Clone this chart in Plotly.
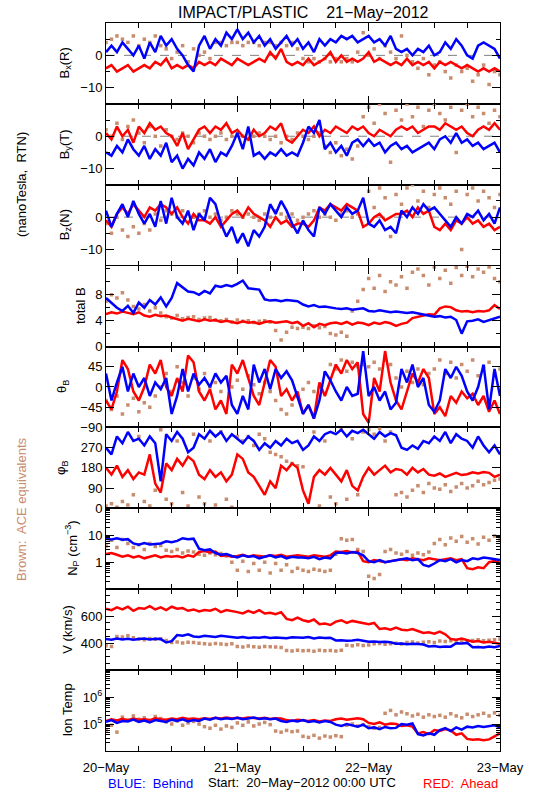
import plotly.graph_objects as go
from plotly.subplots import make_subplots
import pandas as pd

# ---------------- data (hourly samples) ----------------
START = pd.Timestamp("2012-05-20 00:00")
END = pd.Timestamp("2012-05-23 00:00")

day_ticks = ["2012-05-20", "2012-05-21", "2012-05-22", "2012-05-23"]
day_labels = ["20\u2212May", "21\u2212May", "22\u2212May", "23\u2212May"]

bx_blue = [1,3,1,4,2,0,3,-1,4,1,6,3,5,2,0,-3,-5,3,6,2,5,3,7,5,8,5,7,4,6,3,5,2,4,6,3,5,2,4,1,5,3,5,4,6,5,6,4,5,6,4,5,3,6,2,1,2,0,2,1,3,0,1,4,2,5,3,0,-1,3,4,3,2,-1]
bx_red = [-4,-3,-5,-4,-3,-5,-4,-3,-4,-2,-3,-1,-4,-3,-4,-3,-4,-2,-3,-2,-3,-1,-2,-3,-1,-2,-3,-2,-1,-2,1,-1,2,-2,-3,-2,-3,-1,-3,-2,-1,1,-2,0,-2,-1,-2,-1,1,-2,-1,-2,-3,-2,-3,-1,-3,-2,-3,-2,-4,-2,-3,-2,-3,-4,-3,-4,-5,-4,-5,-4,-5]
bx_brown = [4,5,6,5,4,6,3,5,4,6,3,2,-1,1,3,-2,2,0,1,-1,4,4,3,4,4,3,4,4,3,4,4,3,4,3,4,2,-1,-2,-1,-2,-1,-2,-1,-2,-1,-2,1,7,0,2,-1,3,1,-1,6,0,-2,-4,-1,-6,-3,-2,-5,-7,-3,-5,-4,-8,-6,-3,-9,-5,-6]

by_blue = [-5,-6,-3,-5,-1,-4,-6,-3,-7,-4,-6,-2,-8,-6,-10,-7,-9,-5,-7,-4,-8,-5,-6,-3,1,-4,3,-6,-5,-7,-5,-6,-4,-6,-5,-6,-2,3,1,5,-4,-2,-5,-3,-6,-2,-1,-3,-1,-3,-2,-5,-3,-2,-4,-3,-5,-4,-3,-2,-4,-1,0,-2,1,-2,-1,-3,-2,-4,-3,-2,-5]
by_red = [1,-1,3,0,2,-2,3,1,4,2,3,1,0,-3,1,-4,-1,2,3,1,3,2,4,1,2,0,-1,2,0,1,3,2,4,-1,-2,0,2,1,3,0,2,1,3,2,1,3,2,3,1,0,2,1,0,2,3,2,3,1,2,3,3,2,4,3,2,3,1,0,2,3,2,4,2]
by_brown = [2,0,4,-1,3,5,1,-2,3,0,-3,2,0,-1,1,0,-2,1,0,-1,0,1,-1,0,1,0,-1,0,1,0,-1,0,-2,0,-1,1,0,-1,0,1,-3,-5,-2,-6,-4,-7,-3,6,9,4,10,7,-8,8,5,10,6,9,3,8,10,7,5,9,-5,8,10,6,9,7,4,8,6]

bz_blue = [2,-3,1,4,0,5,1,-2,1,-3,5,-2,6,0,-2,2,-4,1,-1,6,4,-2,-6,-3,-8,-5,-9,-4,-6,-3,4,1,5,2,-2,-5,-1,-4,-6,3,1,4,2,0,3,1,2,6,-2,-3,-1,-4,-3,-5,2,0,3,1,4,2,3,1,-1,-3,0,-2,1,0,2,-1,1,-2,3]
bz_red = [-1,-3,1,3,1,4,2,0,3,2,4,3,1,3,0,-2,1,-1,-1,-2,0,-3,-1,1,2,0,3,1,0,-1,-3,0,-2,-1,-3,-2,-2,-3,-1,3,2,4,3,2,4,3,2,-3,-2,0,1,-1,0,1,1,2,0,3,1,2,-3,-4,-2,-4,-1,-2,0,-2,-1,-3,-2,-4,-3]
bz_brown = [-2,-5,0,-4,-6,-3,-5,-2,-4,1,-1,2,1,0,2,1,0,1,2,0,1,-1,0,2,1,0,1,0,-1,1,0,2,1,0,1,-1,0,1,2,0,1,0,-1,1,2,0,1,5,8,3,9,6,-6,7,4,9,10,5,8,3,7,9,6,4,8,-10,7,9,5,8,6,3,7]

btot_blue = [7.5,6.8,6.0,5.5,6.3,5.2,6.8,6.0,7.2,6.5,7.6,6.2,7.5,9.8,9.2,8.5,8.4,8.0,8.6,8.2,9.4,9.2,9.5,9.3,9.7,10.2,9.0,8.9,8.8,7.3,7.1,7.2,7.0,7.2,7.1,7.0,6.5,6.2,6.4,6.1,6.2,6.0,5.9,5.8,5.9,5.7,5.8,5.9,5.5,5.4,5.6,5.5,5.3,5.4,5.3,5.2,5.3,5.1,5.0,4.8,4.6,4.7,4.5,4.6,4.1,2.0,3.9,4.0,4.2,3.8,4.1,4.3,4.6]
btot_red = [5.0,5.3,5.1,5.4,5.2,5.0,5.3,4.8,4.6,4.9,4.7,4.8,4.5,4.2,4.0,4.3,4.1,3.9,4.2,4.0,4.1,3.8,4.0,3.8,3.6,3.9,3.7,3.8,3.5,3.8,3.9,3.7,3.8,3.9,3.6,3.8,3.2,3.6,3.0,3.5,3.3,3.6,3.7,3.5,3.8,3.4,3.7,3.6,3.3,3.7,3.5,3.8,3.6,3.2,3.5,3.7,4.4,4.6,4.8,5.0,4.9,5.9,6.2,6.1,5.6,5.4,5.5,5.3,5.5,5.4,5.6,6.4,5.8]
btot_brown = [7.0,8.0,7.5,8.3,7.2,6.2,5.8,6.5,5.5,6.0,5.2,4.6,4.4,4.8,4.3,4.5,4.6,4.2,4.4,4.5,4.1,4.0,4.2,3.8,4.1,3.9,4.0,3.7,3.9,4.0,3.8,2.5,1.0,2.2,3.0,2.8,3.0,2.8,3.2,2.9,3.1,2.0,1.8,2.2,1.6,5.5,7.0,8.8,10.5,9.0,11.0,8.5,10.0,9.5,10.8,9.0,11.5,12.0,11.0,9.5,12.3,10.5,11.8,9.8,12.2,11.0,12.4,10.8,12.0,11.5,12.3,10.5,10.0]

theta_blue = [30,-30,10,45,-10,30,0,20,-20,10,-5,20,-60,-20,40,-10,30,5,20,0,30,10,25,-40,-60,-20,-50,50,10,40,-5,40,20,35,15,-20,-60,-40,-70,-30,35,15,-10,-30,0,-20,-15,80,-20,0,-30,-10,-50,-35,40,10,50,0,20,-40,-55,-30,40,20,45,25,-10,-30,0,50,-50,40,-20]
theta_red = [-30,-50,-10,60,40,-10,-30,0,50,30,60,0,-20,20,-10,70,55,-10,-30,-5,-50,-30,-60,50,30,60,20,-20,-40,10,60,45,-20,-5,-30,-10,-60,-40,-70,10,-20,15,50,30,60,40,55,-60,-80,20,-10,80,10,-30,-50,-10,30,10,40,20,-60,-45,-65,-20,-35,-10,-25,-15,-40,-20,-55,-30,-60]
theta_brown = [-30,-50,-20,-60,-40,-25,-55,-35,-45,-20,0,30,-10,45,10,-20,20,-5,30,0,10,-10,20,0,15,-5,25,5,-15,10,-10,-30,-50,-60,-40,-20,-5,10,-10,0,30,50,40,60,35,55,45,50,45,55,40,60,50,20,0,35,10,40,5,30,40,60,30,55,20,50,35,60,25,45,55,30,40]

phi_blue = [270,240,320,290,340,300,310,280,320,290,120,330,300,340,310,250,270,330,310,345,320,340,300,330,310,290,320,300,260,290,270,300,280,310,290,300,260,280,320,300,330,340,330,350,320,345,335,350,330,310,340,320,335,325,270,260,280,265,300,290,320,300,340,290,330,310,300,270,320,280,250,280,240]
phi_red = [180,150,190,140,170,130,160,150,240,110,70,200,170,220,190,230,210,150,130,170,140,160,120,150,240,220,160,140,100,60,120,90,190,170,200,180,80,20,140,170,150,180,150,120,170,100,80,140,180,150,170,190,160,175,170,150,180,160,175,150,145,155,140,150,158,148,152,160,155,162,158,140,150]
phi_brown = [10,20,5,30,15,60,320,30,10,80,350,40,20,300,70,10,330,50,20,300,15,340,40,5,320,300,320,280,330,310,250,240,230,210,200,190,185,30,340,10,300,50,20,350,40,310,60,340,350,330,355,300,340,60,70,50,80,100,70,110,90,85,105,75,95,110,90,100,120,105,115,125,130]

np_blue = [7.5,7.0,7.8,6.8,7.2,5.0,4.5,5.2,4.6,4.8,5.0,6.0,5.5,6.2,7.8,7.2,7.5,3.2,2.8,3.0,2.2,1.9,2.0,1.7,1.5,1.8,1.6,1.7,1.4,1.6,1.8,1.5,1.7,1.4,1.6,1.5,1.5,1.4,1.6,1.3,1.5,1.4,2.2,2.3,2.1,2.4,2.2,1.8,1.1,1.0,1.2,1.0,1.1,1.2,1.3,1.4,1.2,1.3,0.8,0.7,0.9,1.2,1.1,1.3,1.0,1.2,1.1,1.4,1.3,1.5,1.4,1.3,1.2]
np_red = [2.0,2.2,1.9,1.6,1.8,1.5,1.7,1.4,1.6,1.8,1.5,1.7,1.6,1.7,1.5,1.8,1.6,2.4,2.6,2.3,2.5,1.7,1.8,1.6,1.7,1.9,1.6,1.8,1.7,1.6,1.8,1.7,1.9,1.6,1.7,1.8,1.7,1.6,1.8,1.7,1.6,1.8,2.5,2.4,2.6,2.3,2.5,1.1,1.0,1.2,1.1,1.0,1.1,1.2,1.3,1.2,1.4,1.3,1.2,1.4,1.3,1.2,1.3,1.4,1.2,1.3,0.6,0.55,0.65,0.6,1.0,1.1,0.95]
np_brown = [4.0,6.5,3.5,7.0,5.0,3.5,4.5,3.0,5.0,3.8,4.2,2.8,2.5,3.0,2.2,2.6,2.4,2.0,1.8,2.2,1.9,2.1,1.7,1.0,0.5,1.1,0.45,0.9,0.5,1.0,0.4,0.9,0.5,0.8,0.45,0.6,0.5,0.45,0.55,0.5,0.45,0.5,2.0,7.5,6.5,7.0,3.0,2.5,0.3,0.25,0.35,2.5,3.0,2.2,2.0,2.5,1.8,2.2,1.9,2.4,5.0,7.0,4.5,8.0,6.0,9.0,5.5,7.5,4.8,8.5,6.5,9.5,7.0]

v_red = [655,645,665,650,670,640,660,655,675,650,665,645,670,655,660,640,650,635,645,640,655,630,645,640,630,620,640,625,645,620,625,615,630,580,570,590,570,560,575,540,545,535,560,570,550,565,555,545,540,550,505,510,500,515,500,495,505,490,475,480,470,485,465,430,425,435,420,410,415,405,410,400,395]
v_blue = [430,425,435,428,432,425,430,435,428,432,430,405,415,460,455,465,450,445,455,450,445,455,450,448,440,445,438,442,440,445,438,442,440,436,444,440,440,445,435,442,438,440,420,422,418,420,425,418,410,412,408,410,406,395,398,392,396,394,390,375,378,372,376,374,400,398,402,370,372,368,375,370,380]
v_brown = [380,375,450,445,455,440,430,425,435,428,432,420,405,408,402,406,404,400,395,392,398,394,390,396,375,372,378,374,370,376,373,371,368,345,342,348,344,346,340,347,343,345,342,348,385,380,388,382,386,395,398,392,396,400,394,405,408,402,406,410,404,415,412,418,414,420,416,420,425,418,422,426,430]

t_blue = [1.2e5,1.4e5,1.1e5,1.3e5,1.25e5,1.45e5,1.2e5,1.35e5,1.15e5,1.4e5,1.3e5,1.2e5,1.45e5,1.3e5,1.5e5,1.25e5,1.4e5,1.3e5,1.6e5,1.45e5,1.7e5,1.5e5,1.65e5,1.55e5,1.7e5,1.5e5,1.6e5,1.75e5,1.55e5,1.65e5,1.5e5,1.6e5,1.3e5,1.2e5,1.35e5,1.25e5,1.4e5,1.2e5,1.3e5,1.15e5,1.3e5,1.2e5,9.5e4,8.5e4,1.0e5,9e4,8e4,9.5e4,7e4,7.5e4,6.5e4,7.8e4,7e4,7.2e4,1.0e5,9.5e4,1.05e5,4.2e4,3.8e4,4.5e4,4.0e4,6e4,7e4,5.5e4,7.5e4,6.2e4,8e4,7.5e4,8.5e4,7.8e4,8.2e4,9e4,7.5e4]
t_red = [1.3e5,1.5e5,1.35e5,1.55e5,1.4e5,1.6e5,1.45e5,1.5e5,1.4e5,1.65e5,1.5e5,1.45e5,1.6e5,1.5e5,1.7e5,1.55e5,1.6e5,1.5e5,1.65e5,1.55e5,1.7e5,1.6e5,1.75e5,1.6e5,1.7e5,1.6e5,1.75e5,1.65e5,1.6e5,1.7e5,1.55e5,1.65e5,1.6e5,1.4e5,1.3e5,1.45e5,1.35e5,1.3e5,1.4e5,1.25e5,1.35e5,1.3e5,1.5e5,1.6e5,1.45e5,1.55e5,1.65e5,1.5e5,1.1e5,1.0e5,1.15e5,9.5e4,1.05e5,1.0e5,8.5e4,9e4,8e4,4.5e4,5e4,4.2e4,6e4,5.5e4,6.5e4,5.8e4,4e4,4.5e4,2.8e4,2.6e4,2.7e4,2.5e4,2.7e4,3.5e4,4.5e4]
t_brown = [6e4,9e4,5e4,1.8e5,1.4e5,2.0e5,1.5e5,1.7e5,1.3e5,1.9e5,1.6e5,1.2e5,1.0e5,1.3e5,9e4,1.1e5,1.25e5,1.0e5,8e4,7e4,9e4,6.5e4,8.5e4,7.5e4,1.1e5,9e4,1.2e5,8.5e4,1.0e5,1.15e5,9.5e4,5.5e4,5.0e4,5.8e4,5.2e4,5.5e4,3.5e4,3.2e4,3.8e4,3.0e4,3.6e4,3.3e4,3.7e4,3.4e4,9e4,1.0e5,8.5e4,9.5e4,8e4,7e4,7.5e4,2.5e5,3.2e5,2.2e5,2.8e5,2.4e5,2.0e5,2.3e5,1.8e5,2.2e5,1.9e5,2.1e5,1.8e5,2.4e5,2.0e5,1.7e5,2.3e5,1.9e5,2.2e5,2.5e5,2.0e5,2.6e5,2.1e5]

# ---------------- styling ----------------
BLUE = "rgb(0,0,255)"
RED = "rgb(255,0,0)"
BROWN = "rgb(200,140,110)"
FONT = "Liberation Sans"
MINUS = "\u2212"


def times(arr):
    return [START + pd.Timedelta(hours=i) for i in range(len(arr))]


def log_minor(lo, hi):
    out = []
    d = lo
    while d < hi:
        out += [d * k for k in range(2, 10)]
        d *= 10
    return out


panels = [
    dict(title="B<sub>x</sub>(R)", tx=65, blue=bx_blue, red=bx_red, brown=bx_brown,
         rng=[-15, 10], tv=[-10, 0], tt=[MINUS + "10", "0"], minor=[-15, -5, 5], zero=True),
    dict(title="B<sub>y</sub>(T)", tx=65, blue=by_blue, red=by_red, brown=by_brown,
         rng=[-15, 10], tv=[-10, 0], tt=[MINUS + "10", "0"], minor=[-15, -5, 5], zero=True),
    dict(title="B<sub>z</sub>(N)", tx=65, blue=bz_blue, red=bz_red, brown=bz_brown,
         rng=[-15, 10], tv=[-10, 0], tt=[MINUS + "10", "0"], minor=[-15, -5, 5], zero=True),
    dict(title="total B", tx=80, blue=btot_blue, red=btot_red, brown=btot_brown,
         rng=[0, 12.5], tv=[0, 4, 8], tt=["0", "4", "8"], minor=[2, 6, 10, 12], zero=False),
    dict(title="\u03b8<sub>B</sub>", tx=62, blue=theta_blue, red=theta_red, brown=theta_brown,
         rng=[-90, 90], tv=[-90, -45, 0, 45], tt=[MINUS + "90", MINUS + "45", "0", "45"], minor=[], zero=False),
    dict(title="\u03c6<sub>B</sub>", tx=62, blue=phi_blue, red=phi_red, brown=phi_brown,
         rng=[0, 360], tv=[0, 90, 180, 270], tt=["0", "90", "180", "270"], minor=[], zero=False),
    dict(title="N<sub>P</sub> (cm<sup>" + MINUS + "3</sup>)", tx=72, blue=np_blue, red=np_red, brown=np_brown,
         rng=[-1, 2], log=True, tv=[1, 10], tt=["1", "10"], minor=log_minor(0.1, 100), zero=False),
    dict(title="V (km/s)", tx=68, blue=v_blue, red=v_red, brown=v_brown,
         rng=[200, 800], tv=[400, 600], tt=["400", "600"],
         minor=[250, 300, 350, 450, 500, 550, 650, 700, 750], zero=False),
    dict(title="Ion Temp", tx=68, blue=t_blue, red=t_red, brown=t_brown,
         rng=[4, 7], log=True, tv=[1e5, 1e6], tt=["10<sup>5</sup>", "10<sup>6</sup>"],
         minor=log_minor(1e4, 1e7), zero=False),
]

N = len(panels)
fig = make_subplots(rows=N, cols=1, shared_xaxes=True, vertical_spacing=0)

L, R, T, B = 106, 50, 23, 49
W, H = 550, 800
PW, PH = W - L - R, H - T - B


def px(x):
    return (x - L) / PW


def py(y):
    return (H - B - y) / PH


six_hours = [START + pd.Timedelta(hours=6 * k) for k in range(13)]

for i, p in enumerate(panels, start=1):
    fig.add_trace(go.Scatter(x=times(p["brown"]), y=p["brown"], mode="markers",
                             marker=dict(color=BROWN, size=3.5, symbol="square", line=dict(width=0)),
                             showlegend=False, hoverinfo="skip"), row=i, col=1)
    fig.add_trace(go.Scatter(x=times(p["red"]), y=p["red"], mode="lines",
                             line=dict(color=RED, width=2.5), showlegend=False), row=i, col=1)
    fig.add_trace(go.Scatter(x=times(p["blue"]), y=p["blue"], mode="lines",
                             line=dict(color=BLUE, width=2.5), showlegend=False), row=i, col=1)
    if p["zero"]:
        fig.add_hline(y=0, row=i, col=1, line=dict(color="gray", width=1, dash="dash"), layer="below")
    fig.update_yaxes(row=i, col=1,
                     type="log" if p.get("log") else "linear",
                     range=p["rng"], tickmode="array", tickvals=p["tv"], ticktext=p["tt"],
                     ticks="inside", ticklen=8, tickwidth=1, tickcolor="black",
                     minor=dict(tickmode="array", tickvals=p["minor"], ticks="inside", ticklen=4,
                                tickcolor="black", showgrid=False),
                     showline=True, linecolor="black", linewidth=1, mirror="ticks",
                     showgrid=False, zeroline=False, fixedrange=True,
                     tickfont=dict(family=FONT, size=13, color="black"))
    top = T + (i - 1) * PH / N
    fig.add_annotation(text=p["title"], xref="paper", yref="paper",
                       x=px(p["tx"]), y=py(top + PH / N / 2), textangle=-90,
                       showarrow=False, xanchor="center", yanchor="middle",
                       font=dict(family=FONT, size=13, color="black"))

fig.update_xaxes(range=[START, END], tickmode="array", tickvals=day_ticks, ticktext=day_labels,
                 ticks="inside", ticklen=8, tickcolor="black",
                 minor=dict(tickmode="array", tickvals=six_hours, ticks="inside", ticklen=5,
                            tickcolor="black", showgrid=False),
                 showline=True, linecolor="black", linewidth=1, mirror="ticks",
                 showgrid=False, zeroline=False,
                 tickfont=dict(family=FONT, size=13, color="black"))
fig.update_xaxes(row=N, col=1, showticklabels=True, ticklabelstandoff=4)

texts = [
    ("IMPACT/PLASTIC\u00a0\u00a0\u00a0 21" + MINUS + "May" + MINUS + "2012", 303, 12, "center", "black", 16, 0),
    ("(nanoTesla,\u00a0 RTN)", 21, 185, "center", "black", 13, -90),
    ("Brown:\u00a0 ACE equivalents", 21, 509, "center", BROWN, 13, -90),
    ("BLUE:\u00a0 Behind", 106, 783, "left", BLUE, 13, 0),
    ("Start:\u00a0 20" + MINUS + "May" + MINUS + "2012 00:00 UTC", 302, 782, "center", "black", 13, 0),
    ("RED:\u00a0 Ahead", 500, 783, "right", RED, 13, 0),
]
for txt, x, y, anchor, color, size, ang in texts:
    fig.add_annotation(text=txt, xref="paper", yref="paper", x=px(x), y=py(y),
                       xanchor=anchor, yanchor="middle", textangle=ang, showarrow=False,
                       font=dict(family=FONT, size=size, color=color))

fig.update_layout(width=W, height=H,
                  margin=dict(l=L, r=R, t=T, b=B),
                  paper_bgcolor="white", plot_bgcolor="white", showlegend=False,
                  font=dict(family=FONT, size=13, color="black"))

fig.write_html("out.html", config={"displayModeBar": False},
               post_script="document.body.style.margin='0px';document.body.style.overflow='hidden';")
